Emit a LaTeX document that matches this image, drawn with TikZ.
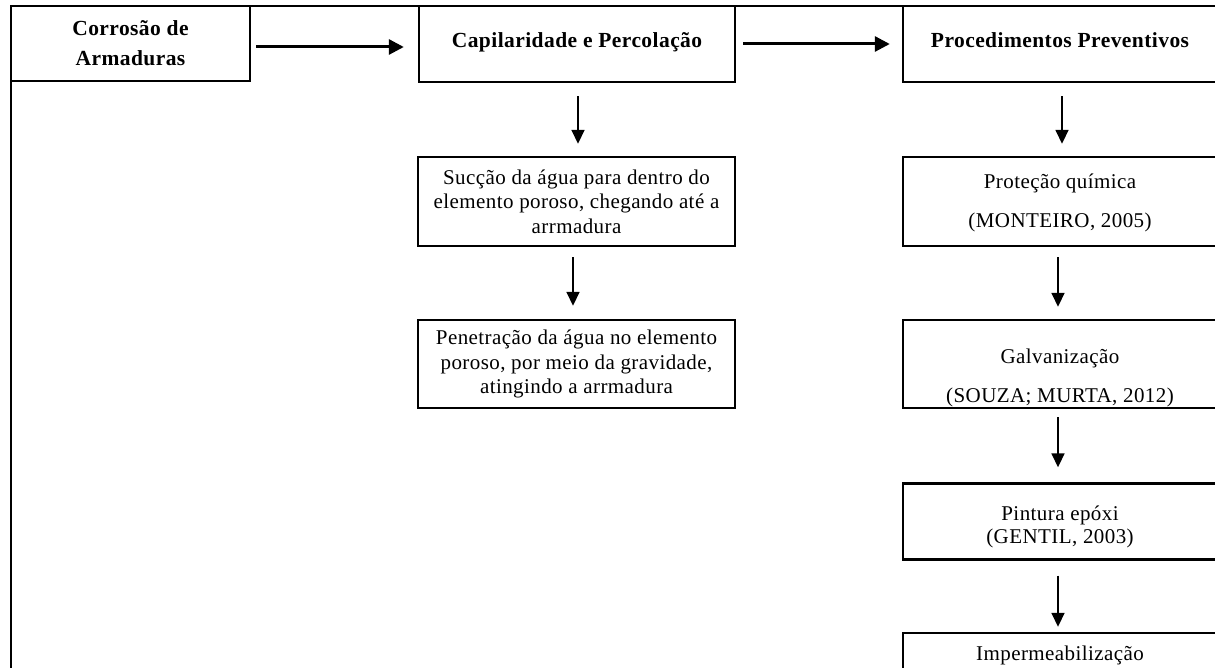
\documentclass[tikz,border=0pt]{standalone}
\usepackage{fontspec}
\setmainfont{Liberation Serif}[LetterSpace=2]
\usetikzlibrary{arrows.meta}
\begin{document}
\begin{tikzpicture}[x=1pt,y=-1pt,
  box/.style={draw, line width=2.4pt, rectangle, inner sep=0pt, align=center},
  hd/.style={font=\fontsize{21.5}{30}\selectfont\bfseries},
  tx/.style={font=\fontsize{21}{24.5}\selectfont, align=center, inner sep=0pt},
  varr/.style={line width=1.7pt, -{Triangle[length=14pt,width=13pt]}},
  harr/.style={line width=3pt, -{Triangle[length=15pt,width=15pt]}}]
\useasboundingbox (0,0) rectangle (1215,668);
\clip (0,0) rectangle (1215,668);
% outer frame
\draw[line width=2.4pt] (11,720) -- (11,6) -- (1218,6) -- (1218,720);
% top row
\node[box, hd, minimum width=239pt, minimum height=75pt] (c) at (130.5,43.5) {Corrosão de\\Armaduras};
\node[box, hd, minimum width=316pt, minimum height=76pt, text depth=8pt] (cp) at (577,44) {Capilaridade e Percolação};
\node[box, hd, minimum width=314pt, minimum height=76pt, text depth=8pt] (pp) at (1060,44) {Procedimentos Preventivos};
% left column
\node[box, tx, minimum width=317pt, minimum height=89pt] (s) at (576.5,201.5) {Sucção da água para dentro do\\elemento poroso, chegando até a\\arrmadura};
\node[box, tx, minimum width=317pt, minimum height=88pt] (pe) at (576.5,364) {Penetração da água no elemento\\poroso, por meio da gravidade,\\atingindo a arrmadura};
% right column boxes
\node[box, minimum width=314pt, minimum height=89pt] (pq) at (1060,201.5) {};
\node[box, minimum width=314pt, minimum height=88pt] (g) at (1060,364) {};
\node[box, minimum width=314pt, minimum height=76pt] (pi) at (1060,521.5) {};
\node[box, minimum width=314pt, minimum height=77pt] (im) at (1060,671.5) {};
% right column texts
\node[tx] (pq1) at (1060,183) {Proteção química};
\node[tx] (pq2) at (1060,222) {(MONTEIRO, 2005)};
\node[tx] (g1) at (1060,358) {Galvanização};
\node[tx] (g2) at (1060,397) {(SOUZA; MURTA, 2012)};
\node[tx] (pi1) at (1060,515) {Pintura epóxi};
\node[tx] (pi2) at (1060,538) {(GENTIL, 2003)};
\node[tx] (im1) at (1060,655) {Impermeabilização};
% horizontal arrows
\draw[harr, shorten <=5pt, shorten >=14pt] ([yshift=-3.5pt]c.east) -- ([yshift=-3.5pt]c.east -| cp.west);
\draw[harr, shorten <=7pt, shorten >=12pt] (cp.east) -- (pp.west);
% vertical arrows
\draw[varr, shorten <=13pt, shorten >=12pt] ([xshift=1pt]cp.south) -- ([xshift=1pt]cp.south |- s.north);
\draw[varr, shorten <=10pt, shorten >=13pt] ([xshift=-3.5pt]s.south) -- ([xshift=-3.5pt]s.south |- pe.north);
\draw[varr, shorten <=13pt, shorten >=12pt] ([xshift=2pt]pp.south) -- ([xshift=2pt]pp.south |- pq.north);
\draw[varr, shorten <=10pt, shorten >=12pt] ([xshift=-2pt]pq.south) -- ([xshift=-2pt]pq.south |- g.north);
\draw[varr, shorten <=8pt, shorten >=15pt] ([xshift=-2pt]g.south) -- ([xshift=-2pt]g.south |- pi.north);
\draw[varr, shorten <=15pt, shorten >=5pt] ([xshift=-2pt]pi.south) -- ([xshift=-2pt]pi.south |- im.north);
\end{tikzpicture}
\end{document}
